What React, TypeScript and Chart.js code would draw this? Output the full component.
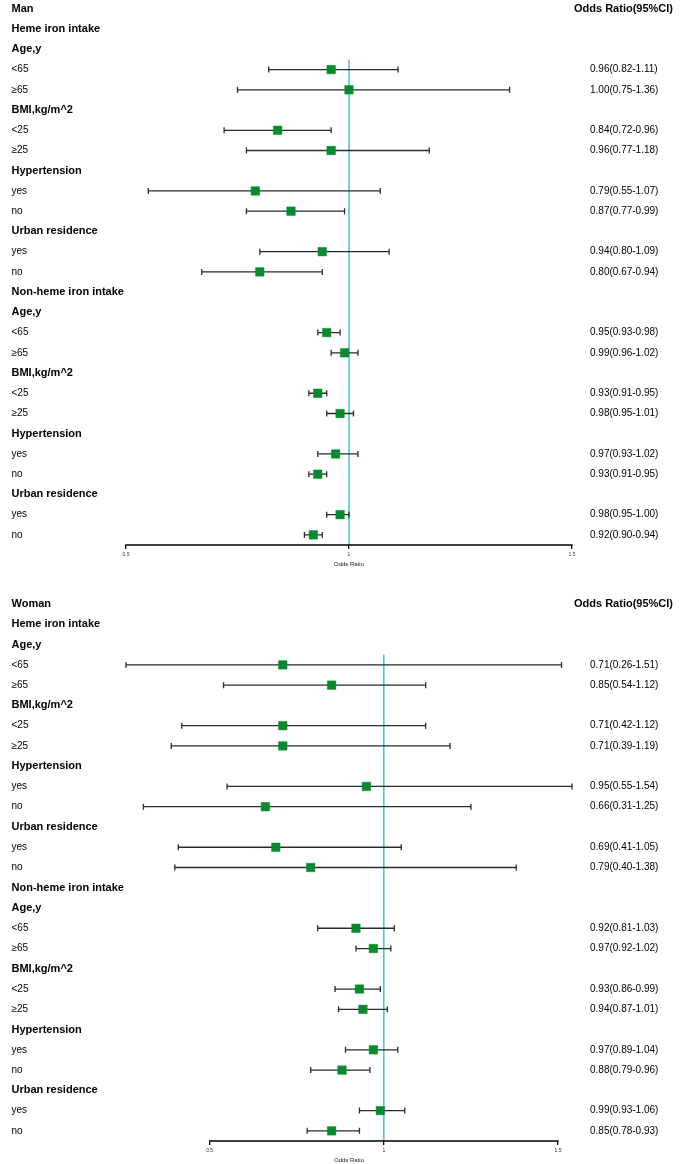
import React, { useEffect, useRef } from "react";
import { Chart, registerables } from "chart.js";

Chart.register(...registerables);

// ---------- data ----------
const rowLabelsMan = [
  "Man", "Heme iron intake", "Age,y", "<65", "≥65", "BMI,kg/m^2", "<25", "≥25",
  "Hypertension", "yes", "no", "Urban residence", "yes", "no",
  "Non-heme iron intake", "Age,y", "<65", "≥65", "BMI,kg/m^2", "<25", "≥25",
  "Hypertension", "yes", "no", "Urban residence", "yes", "no",
];
const rowLabelsWoman = [
  "Woman", "Heme iron intake", "Age,y", "<65", "≥65", "BMI,kg/m^2", "<25", "≥25",
  "Hypertension", "yes", "no", "Urban residence", "yes", "no",
  "Non-heme iron intake", "Age,y", "<65", "≥65", "BMI,kg/m^2", "<25", "≥25",
  "Hypertension", "yes", "no", "Urban residence", "yes", "no",
];
const headerRows = [0, 1, 2, 5, 8, 11, 14, 15, 18, 21, 24];
const dataRows = [3, 4, 6, 7, 9, 10, 12, 13, 16, 17, 19, 20, 22, 23, 25, 26];

const manOR = [0.96, 1.0, 0.84, 0.96, 0.79, 0.87, 0.94, 0.8, 0.95, 0.99, 0.93, 0.98, 0.97, 0.93, 0.98, 0.92];
const manLow = [0.82, 0.75, 0.72, 0.77, 0.55, 0.77, 0.8, 0.67, 0.93, 0.96, 0.91, 0.95, 0.93, 0.91, 0.95, 0.9];
const manHigh = [1.11, 1.36, 0.96, 1.18, 1.07, 0.99, 1.09, 0.94, 0.98, 1.02, 0.95, 1.01, 1.02, 0.95, 1.0, 0.94];

const womanOR = [0.71, 0.85, 0.71, 0.71, 0.95, 0.66, 0.69, 0.79, 0.92, 0.97, 0.93, 0.94, 0.97, 0.88, 0.99, 0.85];
const womanLow = [0.26, 0.54, 0.42, 0.39, 0.55, 0.31, 0.41, 0.4, 0.81, 0.92, 0.86, 0.87, 0.89, 0.79, 0.93, 0.78];
const womanHigh = [1.51, 1.12, 1.12, 1.19, 1.54, 1.25, 1.05, 1.38, 1.03, 1.02, 0.99, 1.01, 1.04, 0.96, 1.06, 0.93];

const xTickValues = [0.5, 1, 1.5];
const valueHeader = "Odds Ratio(95%CI)";
const axisTitle = "Odds Ratio";

const fmt = (v: number) => v.toFixed(2);

type PanelProps = {
  labels: string[];
  or: number[];
  low: number[];
  high: number[];
  xMin: number;
  xMax: number;
  yMin: number;
  height: number;
  axisHeight: number;
};

const FONT = "'Liberation Sans', Arial, sans-serif";

function ForestPanel(p: PanelProps) {
  const ref = useRef<HTMLCanvasElement | null>(null);
  useEffect(() => {
    if (!ref.current) return;
    const points = dataRows.map((r, i) => ({ x: p.or[i], y: r }));

    const forestPlugin = {
      id: "forest",
      beforeDatasetsDraw(chart: any) {
        const { ctx, scales, chartArea } = chart;
        const xs = scales.x;
        const ys = scales.y;
        ctx.save();
        // reference line
        const x1 = xs.getPixelForValue(1);
        ctx.strokeStyle = "#3bbcca";
        ctx.lineWidth = 1.4;
        ctx.beginPath();
        ctx.moveTo(x1, ys.getPixelForValue(2.5));
        ctx.lineTo(x1, chartArea.bottom);
        ctx.stroke();
        // axis line
        ctx.strokeStyle = "#000";
        ctx.lineWidth = 1.5;
        ctx.beginPath();
        ctx.moveTo(xs.getPixelForValue(xTickValues[0]) - 0.6, chartArea.bottom);
        ctx.lineTo(xs.getPixelForValue(xTickValues[xTickValues.length - 1]) + 0.6, chartArea.bottom);
        ctx.stroke();
        // error bars
        ctx.strokeStyle = "#2b2b2b";
        ctx.lineWidth = 1.3;
        dataRows.forEach((r, i) => {
          const y = ys.getPixelForValue(r);
          const a = xs.getPixelForValue(p.low[i]);
          const b = xs.getPixelForValue(p.high[i]);
          ctx.beginPath();
          ctx.moveTo(a, y);
          ctx.lineTo(b, y);
          ctx.moveTo(a, y - 3);
          ctx.lineTo(a, y + 3);
          ctx.moveTo(b, y - 3);
          ctx.lineTo(b, y + 3);
          ctx.stroke();
        });
        ctx.restore();
      },
      afterDraw(chart: any) {
        const { ctx, scales } = chart;
        const ys = scales.y;
        ctx.save();
        ctx.fillStyle = "#000";
        ctx.textBaseline = "middle";
        p.labels.forEach((lab, r) => {
          const y = ys.getPixelForValue(r);
          ctx.textAlign = "left";
          ctx.font = headerRows.includes(r) ? `bold 11px ${FONT}` : `10px ${FONT}`;
          ctx.fillText(lab, 11.5, y);
        });
        ctx.font = `bold 11px ${FONT}`;
        ctx.textAlign = "right";
        ctx.fillText(valueHeader, 673, ys.getPixelForValue(0));
        ctx.font = `10px ${FONT}`;
        ctx.textAlign = "left";
        dataRows.forEach((r, i) => {
          const y = ys.getPixelForValue(r);
          ctx.fillText(`${fmt(p.or[i])}(${fmt(p.low[i])}-${fmt(p.high[i])})`, 590, y);
        });
        ctx.restore();
      },
    };

    const chart = new Chart(ref.current, {
      type: "scatter",
      data: {
        datasets: [
          {
            data: points,
            pointStyle: "rect",
            pointRadius: 6,
            pointHoverRadius: 6,
            backgroundColor: "#078a2d",
            borderColor: "#078a2d",
            borderWidth: 0.5,
          },
        ],
      },
      options: {
        animation: false,
        responsive: false,
        maintainAspectRatio: false,
        events: [],
        layout: { autoPadding: false, padding: { left: 126, right: 113, top: 0, bottom: 0 } },
        plugins: { legend: { display: false }, tooltip: { enabled: false } },
        scales: {
          x: {
            type: "linear",
            min: p.xMin,
            max: p.xMax,
            afterBuildTicks: (scale: any) => {
              scale.ticks = xTickValues.map((v) => ({ value: v }));
            },
            afterFit: (scale: any) => {
              scale.height = p.axisHeight;
            },
            grid: {
              display: true,
              drawOnChartArea: false,
              drawTicks: true,
              tickLength: 4,
              color: "#000",
              lineWidth: 1.3,
            },
            border: { display: false },
            ticks: {
              padding: 3,
              maxRotation: 0,
              autoSkip: false,
              color: "#333",
              font: { size: 5, family: FONT },
              callback: (v: any) => String(v),
            },
            title: {
              display: true,
              text: axisTitle,
              color: "#222",
              font: { size: 6, family: FONT },
              padding: { top: 1, bottom: 0 },
              align: "center",
            },
          },
          y: {
            type: "linear",
            display: false,
            reverse: true,
            min: p.yMin,
            max: 26.5,
          },
        },
      },
      plugins: [forestPlugin],
    } as any);
    return () => chart.destroy();
  }, []);
  return (
    <canvas
      ref={ref}
      width={685}
      height={p.height}
      style={{ display: "block", width: 685, height: p.height }}
    />
  );
}

export default function App() {
  return (
    <div style={{ position: "absolute", left: 0, top: 0, width: 685, height: 1164, background: "#fff" }}>
      <ForestPanel
        labels={rowLabelsMan}
        or={manOR}
        low={manLow}
        high={manHigh}
        xMin={0.5}
        xMax={1.5}
        yMin={-0.44}
        height={568}
        axisHeight={23}
      />
      <div style={{ height: 28 }} />
      <ForestPanel
        labels={rowLabelsWoman}
        or={womanOR}
        low={womanLow}
        high={womanHigh}
        xMin={0.26}
        xMax={1.54}
        yMin={-0.4}
        height={568}
        axisHeight={23}
      />
    </div>
  );
}
